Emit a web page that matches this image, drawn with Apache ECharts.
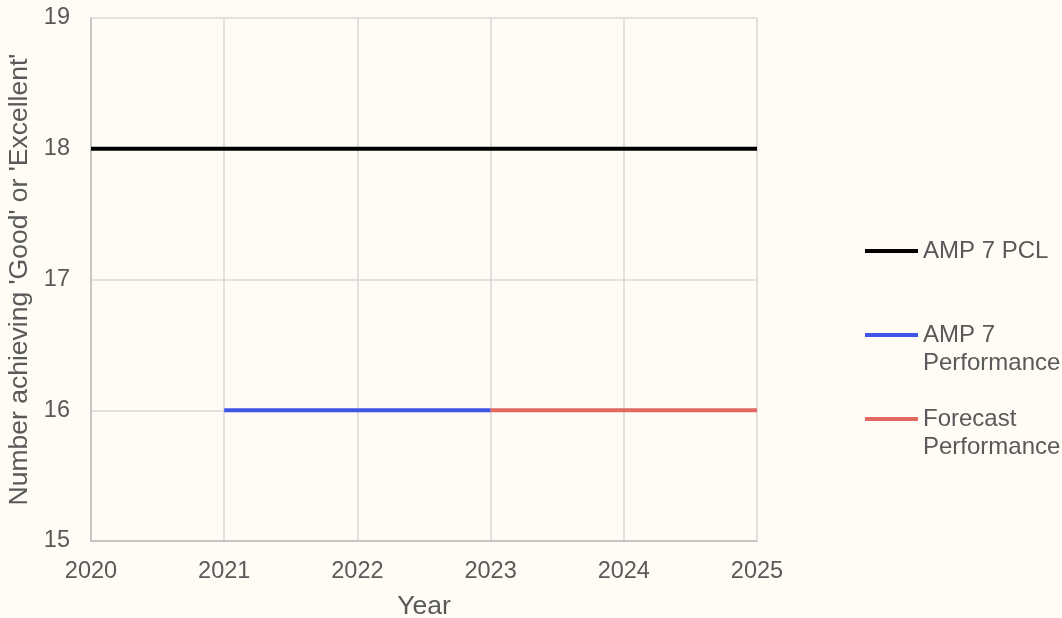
<!DOCTYPE html>
<html>
<head>
<meta charset="utf-8">
<script src="https://cdn.jsdelivr.net/npm/echarts@6/dist/echarts.min.js"></script>
<style>
  html, body { margin: 0; padding: 0; background: #FFFCF5; }
  #chart { width: 1062px; height: 618px; }
</style>
</head>
<body>
<div id="chart"></div>
<script>
// Year ticks and value range
const years = [2020, 2021, 2022, 2023, 2024, 2025];
const yMin = 15, yMax = 19;

// Series: [year, number of sites]
const pclYears = [2020, 2021, 2022, 2023, 2024, 2025];
const pclValues = [18, 18, 18, 18, 18, 18];
const perfYears = [2021, 2022, 2023];
const perfValues = [16, 16, 16];
const forecastYears = [2023, 2024, 2025];
const forecastValues = [16, 16, 16];

const seriesNames = ['AMP 7 PCL', 'AMP 7 Performance', 'Forecast Performance'];
// Wrapped legend text; the leading blank line keeps the swatch level with the first line
const legendLabels = {
  'AMP 7 PCL': 'AMP 7 PCL',
  'AMP 7 Performance': ' \nAMP 7\nPerformance',
  'Forecast Performance': ' \nForecast\nPerformance'
};

const FONT = '"Liberation Sans", Arial, sans-serif';
const TEXT = '#595959';

const pairs = (xs, ys) => xs.map((x, i) => [x, ys[i]]);

function legendAt(name, top) {
  return {
    data: [name],
    left: 865,
    top: top,
    orient: 'vertical',
    padding: 0,
    icon: 'rect',
    itemWidth: 53,
    itemHeight: 4,
    selectedMode: false,
    formatter: n => legendLabels[n],
    textStyle: {
      color: TEXT,
      fontFamily: FONT,
      fontSize: 24,
      lineHeight: 28
    }
  };
}

const chart = echarts.init(document.getElementById('chart'), null, { renderer: 'canvas' });
chart.setOption({
  backgroundColor: '#FFFCF5',
  animation: false,
  grid: { left: 91, right: 305, top: 18, bottom: 77, outerBoundsMode: 'none', containLabel: false },
  legend: [
    legendAt(seriesNames[0], 237),
    legendAt(seriesNames[1], 293),
    legendAt(seriesNames[2], 377)
  ],
  xAxis: {
    type: 'value',
    min: years[0],
    max: years[years.length - 1],
    interval: 1,
    name: 'Year',
    nameLocation: 'middle',
    nameGap: 52,
    nameTextStyle: { color: TEXT, fontFamily: FONT, fontSize: 26.5 },
    axisLine: { show: true, lineStyle: { color: '#BFBFBF', width: 1.5 } },
    axisTick: { show: false },
    axisLabel: {
      color: TEXT, fontFamily: FONT, fontSize: 23.5, margin: 19,
      formatter: v => String(v)
    },
    splitLine: { show: true, lineStyle: { color: '#D9D9D9', width: 1.5 } }
  },
  yAxis: {
    type: 'value',
    min: yMin,
    max: yMax,
    interval: 1,
    name: "Number achieving 'Good' or 'Excellent'",
    nameLocation: 'middle',
    nameGap: 57,
    nameTextStyle: { color: TEXT, fontFamily: FONT, fontSize: 26.5 },
    axisLine: { show: true, lineStyle: { color: '#BFBFBF', width: 1.5 } },
    axisTick: { show: false },
    axisLabel: { color: TEXT, fontFamily: FONT, fontSize: 23.5, margin: 21 },
    splitLine: { show: true, lineStyle: { color: '#D9D9D9', width: 1.5 } }
  },
  series: [
    {
      name: seriesNames[0], type: 'line', data: pairs(pclYears, pclValues),
      showSymbol: false, color: '#000000',
      lineStyle: { color: '#000000', width: 4 }
    },
    {
      name: seriesNames[1], type: 'line', data: pairs(perfYears, perfValues),
      showSymbol: false, color: '#3F55E6',
      lineStyle: { color: '#3F55E6', width: 4 }
    },
    {
      name: seriesNames[2], type: 'line', data: pairs(forecastYears, forecastValues),
      showSymbol: false, color: '#E06A62',
      lineStyle: { color: '#E06A62', width: 4 }
    }
  ]
});
</script>
</body>
</html>
